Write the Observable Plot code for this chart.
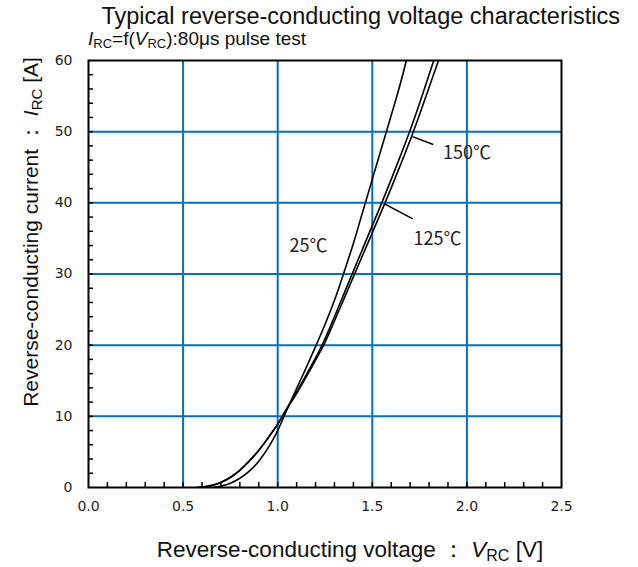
<!DOCTYPE html>
<html><head><meta charset="utf-8">
<script src="https://cdn.jsdelivr.net/npm/d3@7"></script>
<script src="https://cdn.jsdelivr.net/npm/@observablehq/plot@0.6"></script>
<style>body{margin:0;background:#fff} #chart{width:638px;height:567px}</style>
</head><body><div id="chart"></div>
<script>
// Series (V in volts, I in amperes)
const v25  = [0.66, 0.70, 0.75, 0.80, 0.85, 0.90, 0.95, 1.00, 1.05, 1.10, 1.15, 1.20, 1.25, 1.30, 1.35, 1.40, 1.45, 1.50, 1.55, 1.60, 1.65, 1.68];
const i25  = [0.0, 0.2, 0.6, 1.3, 2.3, 3.7, 5.6, 8.0, 11.0, 13.9, 16.8, 19.8, 22.9, 26.3, 30.2, 34.3, 38.8, 43.3, 47.8, 52.3, 56.9, 60.0];
const v125 = [0.58, 0.65, 0.70, 0.75, 0.80, 0.85, 0.90, 0.95, 1.00, 1.05, 1.10, 1.15, 1.20, 1.25, 1.30, 1.35, 1.40, 1.45, 1.50, 1.55, 1.60, 1.65, 1.70, 1.75, 1.80, 1.825];
const i125 = [0.0, 0.25, 0.7, 1.4, 2.4, 3.7, 5.2, 7.0, 8.9, 11.2, 13.4, 15.8, 18.2, 20.9, 24.0, 27.2, 30.4, 33.6, 36.8, 40.0, 43.3, 46.7, 50.2, 54.0, 58.0, 60.0];
const v150 = [0.57, 0.65, 0.70, 0.75, 0.80, 0.85, 0.90, 0.95, 1.00, 1.05, 1.10, 1.15, 1.20, 1.25, 1.30, 1.35, 1.40, 1.45, 1.50, 1.55, 1.60, 1.65, 1.70, 1.75, 1.80, 1.85];
const i150 = [0.0, 0.3, 0.75, 1.45, 2.45, 3.75, 5.25, 7.0, 8.9, 11.1, 13.2, 15.5, 17.9, 20.4, 23.4, 26.5, 29.6, 32.7, 35.8, 38.9, 42.1, 45.4, 48.8, 52.4, 56.2, 60.0];
const seriesNames = ["25℃", "125℃", "150℃"];

// Curve labels and leader lines
const labelText = ["25℃", "150℃", "125℃"];
const labelV = [1.163, 2.000, 1.845];
const labelI = [33.9, 46.9, 34.9];
const leaderV1 = [1.822, 1.714];
const leaderI1 = [48.2, 37.75];
const leaderV2 = [1.712, 1.562];
const leaderI2 = [49.3, 39.9];

// Axes
const xTicks = [0.0, 0.5, 1.0, 1.5, 2.0, 2.5];
const yTicks = [0, 10, 20, 30, 40, 50, 60];
const xGrid = [0.5, 1.0, 1.5, 2.0];
const yGrid = [10, 20, 30, 40, 50];
const xMinor = [0.1,0.2,0.3,0.4,0.5,0.6,0.7,0.8,0.9,1.0,1.1,1.2,1.3,1.4,1.5,1.6,1.7,1.8,1.9,2.0,2.1,2.2,2.3,2.4];
const yMinor = [2,4,6,8,10,12,14,16,18,20,22,24,26,28,30,32,34,36,38,40,42,44,46,48,50,52,54,56,58];

const rows = [];
[[v25, i25], [v125, i125], [v150, i150]].forEach(([vs, is], k) => {
  vs.forEach((v, j) => rows.push({series: seriesNames[k], v, i: is[j]}));
});
const labels = labelText.map((t, k) => ({t, v: labelV[k], i: labelI[k]}));
const leaders = leaderV1.map((v, k) => ({v1: v, i1: leaderI1[k], v2: leaderV2[k], i2: leaderI2[k]}));

const W = 638, H = 567, mL = 88, mR = 77, mT = 60, mB = 80;
const fw = W - mL - mR, fh = H - mT - mB;

const plot = Plot.plot({
  width: W, height: H,
  marginLeft: mL, marginRight: mR, marginTop: mT, marginBottom: mB,
  x: {domain: [0, 2.5]},
  y: {domain: [0, 60]},
  style: {fontFamily: "'DejaVu Sans', Verdana, sans-serif", fontSize: "14px", color: "#222", background: "#fff", overflow: "visible"},
  marks: [
    Plot.ruleX(xGrid, {stroke: "#0070C0", strokeWidth: 2}),
    Plot.ruleY(yGrid, {stroke: "#0070C0", strokeWidth: 2}),
    Plot.ruleX(xMinor, {stroke: "#000", strokeWidth: 1.5, insetTop: fh - 5}),
    Plot.ruleY(yMinor, {stroke: "#000", strokeWidth: 1.5, insetRight: fw - 5}),
    Plot.line(rows, {x: "v", y: "i", z: "series", stroke: "#000", strokeWidth: 1.6, curve: "monotone-x", clip: true}),
    Plot.link(leaders, {x1: "v1", y1: "i1", x2: "v2", y2: "i2", stroke: "#000", strokeWidth: 1.5}),
    Plot.text(labels, {x: "v", y: "i", text: "t", fontFamily: "'Noto Sans CJK JP', sans-serif", fontSize: 18, fill: "#222"}),
    Plot.axisX(xTicks, {tickSize: 0, tickPadding: 14, tickFormat: d => d.toFixed(1), label: null}),
    Plot.axisY(yTicks, {tickSize: 0, tickPadding: 16, label: null}),
    Plot.frame({stroke: "#000", strokeWidth: 2})
  ]
});
document.getElementById("chart").appendChild(plot);

const svg = d3.select(plot);
const F = "'Liberation Sans', Arial, sans-serif";
svg.append("text").attr("x", 620).attr("y", 24).attr("text-anchor", "end")
  .attr("font-family", F).attr("font-size", 23.5).attr("fill", "#111")
  .text("Typical reverse-conducting voltage characteristics");

function richText(sel, parts, subSize) {
  parts.forEach(p => {
    const ts = sel.append("tspan").text(p.t);
    if (p.it) ts.attr("font-style", "italic");
    if (p.sub) ts.attr("font-size", subSize).attr("dy", p.dy);
    if (p.up) ts.attr("dy", p.up);
  });
}
const sub = svg.append("text").attr("x", 88).attr("y", 45).attr("text-anchor", "start")
  .attr("font-family", F).attr("font-size", 19).attr("fill", "#111");
richText(sub, [
  {t: "I", it: true}, {t: "RC", sub: true, dy: 3}, {t: "=f(", up: -3},
  {t: "V", it: true}, {t: "RC", sub: true, dy: 3}, {t: "):80μs pulse test", up: -3}
], 13);

const xl = svg.append("text").attr("x", 350).attr("y", 557).attr("text-anchor", "middle")
  .attr("font-family", F).attr("font-size", 22.5).attr("fill", "#111");
richText(xl, [
  {t: "Reverse-conducting voltage ： "}, {t: "V", it: true}, {t: "RC", sub: true, dy: 4}, {t: " [V]", up: -4}
], 16);

const yl = svg.append("text").attr("transform", "translate(38,232) rotate(-90)").attr("text-anchor", "middle")
  .attr("font-family", F).attr("font-size", 21).attr("fill", "#111");
richText(yl, [
  {t: "Reverse-conducting current ： "}, {t: "I", it: true}, {t: "RC", sub: true, dy: 4}, {t: " [A]", up: -4}
], 15);
</script>
</body></html>
